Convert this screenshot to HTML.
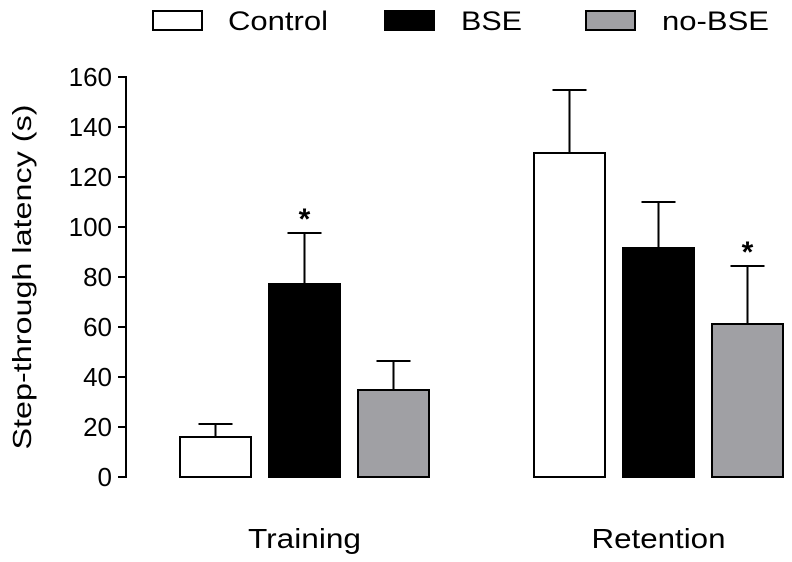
<!DOCTYPE html>
<html><head><meta charset="utf-8"><style>
body{margin:0;background:#fff}
svg{display:block;font-family:"Liberation Sans",Arial,sans-serif}
</style></head><body>
<svg id="chart" width="792" height="562" viewBox="0 0 792 562">
<g>
<rect x="153" y="11" width="49" height="19" fill="#fff" stroke="#000" stroke-width="2"/>
<text x="228" y="30" font-size="27" textLength="100" lengthAdjust="spacingAndGlyphs">Control</text>
<rect x="384" y="10" width="51" height="21" fill="#000"/>
<text x="461" y="30" font-size="27" textLength="61" lengthAdjust="spacingAndGlyphs">BSE</text>
<rect x="586" y="11" width="49" height="19" fill="#a0a0a4" stroke="#000" stroke-width="2"/>
<text x="662" y="30" font-size="27" textLength="107" lengthAdjust="spacingAndGlyphs">no-BSE</text>
</g>
<g id="axis"></g>
<g id="bars"></g>
<text transform="translate(31,277) rotate(-90)" text-anchor="middle" font-size="26" textLength="345" lengthAdjust="spacingAndGlyphs">Step-through latency (s)</text>
</svg>
<script>
const groups=["Training","Retention"];
const series=["Control","BSE","no-BSE"];
const means=[[16,77.2,34.8],[129.6,91.6,61.2]];
const errs=[[5.2,20.4,11.6],[25.2,18.4,23.2]];
const sig=[[false,true,false],[false,false,true]];
const ticks=[0,20,40,60,80,100,120,140,160];
const fills=["#fff","#000","#a0a0a4"];
const NS="http://www.w3.org/2000/svg";
const y=v=>477-v*2.5;
const groupX=[180,534], barW=71, step=89;
function mk(t,a,p){const e=document.createElementNS(NS,t);for(const k in a)e.setAttribute(k,a[k]);p.appendChild(e);return e;}
const ax=document.getElementById('axis');
const l=mk('line',{x1:126,x2:126,y1:y(160),y2:y(0),stroke:'#000','stroke-width':2},ax);


ticks.forEach(t=>{
 const tk=mk('line',{x1:118,x2:127,y1:y(t),y2:y(t),stroke:'#000','stroke-width':2},ax);
 
 
 const tx=mk('text',{x:112,y:y(t)+9,'text-anchor':'end','font-size':26},ax);tx.textContent=t;
 
 
});
const bg=document.getElementById('bars');
const glw=[113,134];
groups.forEach((g,gi)=>{
 const gl=mk('text',{x:groupX[gi]+step+barW/2,y:548,'text-anchor':'middle','font-size':28,textLength:glw[gi],lengthAdjust:'spacingAndGlyphs'},bg);gl.textContent=g;
 
 
 series.forEach((s,si)=>{
  const x=groupX[gi]+si*step, m=means[gi][si], e=errs[gi][si], cx=x+barW/2;
  const el=mk('line',{x1:cx,x2:cx,y1:y(m),y2:y(m+e),stroke:'#000','stroke-width':2},bg);
  
  
  const cap=mk('line',{x1:cx-17,x2:cx+17,y1:y(m+e),y2:y(m+e),stroke:'#000','stroke-width':2},bg);
  
  
  const r=mk('rect',{x:x,y:y(m),width:barW,height:y(0)-y(m),fill:fills[si],stroke:'#000','stroke-width':2},bg);
  
  
  if(sig[gi][si]){const st=mk('text',{x:cx,y:y(m+e)-4,'text-anchor':'middle','font-size':30,'font-weight':'bold'},bg);st.textContent='*';
   
   }
 });
});
</script>
</body></html>
